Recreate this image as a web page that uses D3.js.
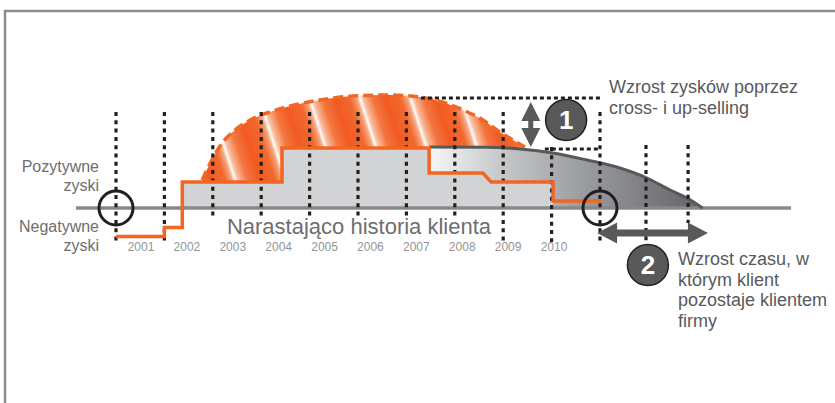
<!DOCTYPE html>
<html>
<head>
<meta charset="utf-8">
<script src="https://cdn.jsdelivr.net/npm/d3@7"></script>
<style>
  html, body { margin: 0; padding: 0; background: #fff; }
  svg { display: block; }
</style>
</head>
<body>
<svg id="chart" width="835" height="403"></svg>
<script>
// ---- data -------------------------------------------------------------
const yearLabels = ['2001', '2002', '2003', '2004', '2005', '2006', '2007', '2008', '2009', '2010'];
const yearLabelValues = [2001, 2002, 2003, 2004, 2005, 2006, 2007, 2008, 2009, 2010];

// dotted year boundaries (the last two lie in the extended relationship)
const gridYears = [2000.5, 2001.5, 2002.5, 2003.5, 2004.5, 2005.5, 2006.5, 2007.5, 2008.5,
                   2009.5, 2010.5, 2011.45, 2012.32];

// cumulative profit of the customer (orange step line)
const stepYears  = [2000.5, 2001.5, 2001.5, 2001.87, 2001.87, 2003.93, 2003.93, 2006.97,
                    2006.97, 2008.08, 2008.25, 2009.53, 2009.53, 2010.52];
const stepProfit = [-28.5, -28.5, -19.5, -19.5, 26, 26, 60, 60, 35, 35, 26, 26, 7, 7];

// profit potential from cross- and up-selling (dashed dome)
const potentialYears  = [2002.28, 2002.48, 2002.71, 2002.96, 2003.27, 2003.68, 2004.10, 2004.71,
                         2005.40, 2006.10, 2006.78, 2007.30, 2007.67, 2008.08, 2008.43, 2008.70, 2008.95];
const potentialProfit = [28, 48, 66, 78, 88, 96, 102, 108, 112, 113, 111, 105, 98, 88, 76, 68, 61];

// profit of a longer-lasting relationship (grey curve)
const retentionYears  = [2006.97, 2008.17, 2008.85, 2009.53, 2010.23, 2010.91, 2011.47, 2011.95, 2012.30, 2012.62];
const retentionProfit = [61, 60.7, 59, 55, 48, 40, 30, 18, 10, 0];

const positiveLabel = ['Pozytywne', 'zyski'];
const negativeLabel = ['Negatywne', 'zyski'];
const historyTitle = 'Narastająco historia klienta';
const note1Lines = ['Wzrost zysków poprzez', 'cross- i up-selling'];
const note2Lines = ['Wzrost czasu, w', 'którym klient', 'pozostaje klientem', 'firmy'];

// ---- scales -----------------------------------------------------------
const x = d3.scaleLinear().domain([2000.5, 2010.5]).range([116, 600]);
const y = d3.scaleLinear().domain([0, 100]).range([208, 108]);
const labelX = d3.scaleLinear().domain([2001, 2010]).range([141, 554]);

const ORANGE = '#f26522';
const DARK = '#58595b';
const INK = '#231f20';
const FONT = "'Liberation Sans', Arial, sans-serif";

const svg = d3.select('#chart');
const defs = svg.append('defs');

// diagonal orange stripes with a thin white highlight
const stripeGrad = defs.append('linearGradient').attr('id', 'stripeGrad')
  .attr('x1', 0).attr('x2', 1).attr('y1', 0).attr('y2', 0);
[[0, '#f15a22'], [0.3, '#f26a2e'], [0.44, '#f7a57f'], [0.5, '#ffffff'], [0.56, '#f9bfa2'],
 [0.75, '#f37640'], [1, '#f15a22']]
  .forEach(([o, c]) => stripeGrad.append('stop').attr('offset', o).attr('stop-color', c));
const pattern = defs.append('pattern').attr('id', 'stripes')
  .attr('patternUnits', 'userSpaceOnUse').attr('width', 48).attr('height', 400)
  .attr('patternTransform', 'rotate(-18)');
pattern.append('rect').attr('width', 48).attr('height', 400).attr('fill', 'url(#stripeGrad)');

// grey shading of the prolonged relationship
const retGrad = defs.append('linearGradient').attr('id', 'retGrad')
  .attr('gradientUnits', 'userSpaceOnUse')
  .attr('x1', x(retentionYears[0])).attr('x2', x(retentionYears[retentionYears.length - 1]))
  .attr('y1', 0).attr('y2', 0);
[[0, '#f6f6f7'], [0.25, '#c9cacc'], [0.55, '#9d9ea1'], [1, '#626366']]
  .forEach(([o, c]) => retGrad.append('stop').attr('offset', o).attr('stop-color', c));

// ---- frame ------------------------------------------------------------
svg.append('path').attr('d', 'M5,403 V11 H835')
  .attr('fill', 'none').attr('stroke', '#8c8c8c').attr('stroke-width', 2.5);

// ---- areas ------------------------------------------------------------
const retention = retentionYears.map((d, i) => [d, retentionProfit[i]]);
const steps = stepYears.map((d, i) => [d, stepProfit[i]]);
const potential = potentialYears.map((d, i) => [d, potentialProfit[i]]);

svg.append('path')
  .attr('d', d3.area().x(d => x(d[0])).y0(y(0)).y1(d => y(d[1])).curve(d3.curveMonotoneX)(retention))
  .attr('fill', 'url(#retGrad)');

const positiveSteps = steps.filter(d => d[0] >= 2001.87 && d[0] <= 2009.53 && d[1] > 0);
svg.append('path')
  .attr('d', d3.area().x(d => x(d[0])).y0(y(0)).y1(d => y(d[1]))(positiveSteps))
  .attr('fill', '#d1d3d4');

// hatched potential: dome on top, current profit underneath (traced right to left)
const domeLine = d3.line().x(d => x(d[0])).y(d => y(d[1])).curve(d3.curveMonotoneX);
const domeStart = potential[0][0];
const domeEnd = potential[potential.length - 1][0];
const retStartIdx = stepYears.indexOf(retentionYears[0]);
const lower = retention.filter(d => d[0] <= domeEnd).reverse()
  .concat(steps.slice(0, retStartIdx + 1).filter(d => d[0] >= domeStart).reverse());
lower.push([domeStart, stepProfit[retStartIdx - 3]]);
const lowerPath = d3.line().x(d => x(d[0])).y(d => y(d[1]))(lower).replace(/^M/, 'L');
svg.append('path')
  .attr('d', domeLine(potential) + lowerPath + 'Z')
  .attr('fill', 'url(#stripes)');
svg.append('path')
  .attr('d', domeLine(potential))
  .attr('fill', 'none').attr('stroke', ORANGE).attr('stroke-width', 3.5)
  .attr('stroke-dasharray', '10,5');

// ---- zero line --------------------------------------------------------
svg.append('line')
  .attr('x1', 76).attr('x2', 791).attr('y1', y(0)).attr('y2', y(0))
  .attr('stroke', '#88898b').attr('stroke-width', 3.5);

// retention curve outline
svg.append('path')
  .attr('d', d3.line().x(d => x(d[0])).y(d => y(d[1])).curve(d3.curveMonotoneX)(retention))
  .attr('fill', 'none').attr('stroke', DARK).attr('stroke-width', 3);

// ---- dotted year boundaries ------------------------------------------
const underTitle = v => v > 2002 && v < 2008;
svg.append('g').selectAll('line').data(gridYears).join('line')
  .attr('x1', d => x(d)).attr('x2', d => x(d))
  .attr('y1', d => d > 2010.6 ? y(63) : (d === 2009.5 ? y(61) : y(96)))
  .attr('y2', d => underTitle(d) ? y(-9) : (d > 2012 ? y(-15) : y(-34)))
  .attr('stroke', INK).attr('stroke-width', 3.2).attr('stroke-dasharray', '4,4.3');

// bracket of the profit increase
svg.append('line')
  .attr('x1', x(2006.8)).attr('x2', x(2010.5)).attr('y1', y(110)).attr('y2', y(110))
  .attr('stroke', INK).attr('stroke-width', 3).attr('stroke-dasharray', '4,3');
svg.append('line')
  .attr('x1', x(2009.36)).attr('x2', x(2010.5)).attr('y1', y(59)).attr('y2', y(59))
  .attr('stroke', INK).attr('stroke-width', 3).attr('stroke-dasharray', '4,3');

// ---- profit step line -------------------------------------------------
svg.append('path')
  .attr('d', d3.line().x(d => x(d[0])).y(d => y(d[1]))(steps))
  .attr('fill', 'none').attr('stroke', ORANGE).attr('stroke-width', 3.5)
  .attr('stroke-linejoin', 'miter');

// start / end of the relationship
svg.append('g').selectAll('circle').data([stepYears[0], 2010.5]).join('circle')
  .attr('cx', d => x(d)).attr('cy', y(0)).attr('r', 17)
  .attr('fill', 'none').attr('stroke', INK).attr('stroke-width', 3);

// ---- arrows and badges ------------------------------------------------
function doubleArrow(p1, p2, headL, headW, shaftW) {
  const dx = p2[0] - p1[0], dy = p2[1] - p1[1], L = Math.hypot(dx, dy);
  const ux = dx / L, uy = dy / L, nx = -uy, ny = ux;
  const pt = (t, s) => [p1[0] + ux * t + nx * s, p1[1] + uy * t + ny * s];
  const pts = [pt(0, 0), pt(headL, headW / 2), pt(headL, shaftW / 2), pt(L - headL, shaftW / 2),
               pt(L - headL, headW / 2), pt(L, 0), pt(L - headL, -headW / 2), pt(L - headL, -shaftW / 2),
               pt(headL, -shaftW / 2), pt(headL, -headW / 2)];
  return 'M' + pts.map(p => p.join(',')).join('L') + 'Z';
}
svg.append('path')
  .attr('d', doubleArrow([x(2009.07), y(106)], [x(2009.07), y(61)], 19, 19, 5))
  .attr('fill', DARK);
svg.append('path')
  .attr('d', doubleArrow([x(2010.44), y(-25)], [x(2012.73), y(-25)], 20, 21, 7))
  .attr('fill', DARK);

function badge(cx, cy, label) {
  svg.append('circle').attr('cx', cx).attr('cy', cy).attr('r', 20.5)
    .attr('fill', DARK).attr('stroke', INK).attr('stroke-width', 1.5);
  svg.append('text').attr('x', cx).attr('y', cy + 9)
    .attr('text-anchor', 'middle').attr('font-family', FONT).attr('font-weight', 700)
    .attr('font-size', 26).attr('fill', '#fff').text(label);
}
badge(x(2009.8), y(88), '1');
badge(x(2011.49), y(-57), '2');

// ---- texts ------------------------------------------------------------
svg.append('g').selectAll('text').data(yearLabels).join('text')
  .attr('x', (d, i) => labelX(yearLabelValues[i])).attr('y', 251)
  .attr('text-anchor', 'middle').attr('font-family', FONT).attr('font-size', 12)
  .attr('fill', '#939598').text(d => d);

svg.append('text').attr('x', 359).attr('y', 234).attr('text-anchor', 'middle')
  .attr('font-family', FONT).attr('font-size', 22).attr('fill', '#6d6e71')
  .text(historyTitle);

const sideLabels = svg.append('g').attr('font-family', FONT).attr('font-size', 16)
  .attr('fill', '#6d6e71').attr('text-anchor', 'end');
positiveLabel.forEach((t, i) => sideLabels.append('text').attr('x', 99).attr('y', 172 + i * 18.5).text(t));
negativeLabel.forEach((t, i) => sideLabels.append('text').attr('x', 99).attr('y', 232 + i * 19).text(t));

const n1 = svg.append('g').attr('font-family', FONT).attr('font-size', 18).attr('fill', DARK);
note1Lines.forEach((t, i) => n1.append('text').attr('x', 609).attr('y', 93 + i * 20.5).text(t));

const n2 = svg.append('g').attr('font-family', FONT).attr('font-size', 18).attr('fill', DARK);
note2Lines.forEach((t, i) => n2.append('text').attr('x', 678).attr('y', 265 + i * 20.5).text(t));
</script>
</body>
</html>
